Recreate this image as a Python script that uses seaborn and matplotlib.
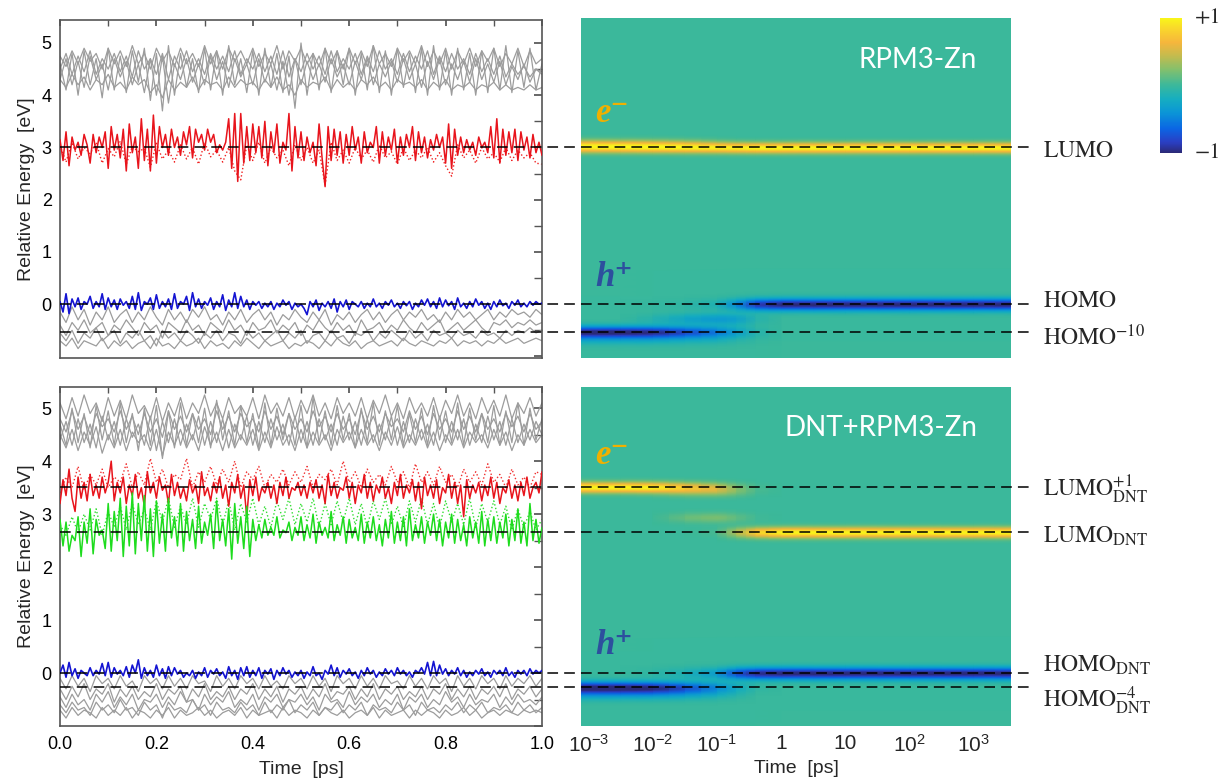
import numpy as np
import matplotlib
matplotlib.use('Agg')
import matplotlib.pyplot as plt
import seaborn as sns
from matplotlib.colors import LinearSegmentedColormap
from matplotlib.lines import Line2D
from matplotlib.ticker import MultipleLocator, FuncFormatter
from matplotlib.transforms import blended_transform_factory

# ---------------- data: left panels, energy traces [eV] over 0..1 ps ----------------

top_red = [3.15, 2.75, 3.3, 2.65, 3.2, 2.95, 3.1, 2.85, 3.25, 3.05,
           2.7, 3.25, 2.9, 3.2, 3.0, 3.3, 2.6, 3.4, 2.95, 3.25,
           2.8, 3.35, 2.55, 3.45, 2.9, 3.2, 2.6, 3.55, 2.75, 3.35,
           2.55, 3.62, 2.7, 3.4, 3.0, 3.25, 2.85, 3.35, 3.0, 3.2,
           2.85, 3.3, 3.05, 3.4, 2.8, 3.35, 3.1, 3.25, 2.95, 3.35,
           3.1, 3.25, 2.9, 3.05, 2.95, 3.1, 3.55, 2.6, 3.65, 2.35,
           3.65, 2.7, 3.4, 2.75, 3.45, 2.9, 3.4, 2.8, 3.5, 2.65,
           3.3, 2.9, 3.45, 2.7, 3.1, 2.95, 3.65, 2.55, 3.4, 2.8,
           3.3, 2.75, 3.2, 2.9, 3.1, 2.65, 3.45, 2.8, 2.25, 3.4,
           2.75, 3.35, 2.85, 3.3, 2.7, 3.25, 2.85, 3.4, 2.95, 3.2,
           2.7, 3.3, 2.9, 3.1, 3.0, 3.4, 2.7, 3.3, 2.85, 3.2,
           2.95, 3.35, 2.7, 3.2, 2.85, 3.25, 3.0, 3.4, 2.75, 3.3,
           2.9, 3.2, 2.8, 3.15, 2.95, 3.25, 3.0, 3.2, 2.7, 3.45,
           2.6, 3.35, 2.85, 3.2, 2.9, 3.15, 2.95, 3.1, 2.85, 3.2,
           3.0, 3.1, 2.9, 3.4, 2.8, 3.55, 2.7, 3.35, 2.85, 3.3,
           2.9, 3.35, 2.75, 3.3, 2.95, 3.2, 2.8, 3.25, 2.9, 3.1, 2.85]

top_red_dot = [3.05, 2.72, 3.1, 2.78, 3.0, 2.88, 3.1, 2.7, 2.98, 2.82,
               3.12, 2.68, 3.02, 2.92, 2.98, 2.62, 3.08, 2.78, 2.95, 2.72,
               3.05, 2.78, 3.0, 2.68, 3.1, 2.82, 2.95, 2.72, 3.0, 2.55,
               2.38, 3.05, 2.75, 3.1, 2.7, 3.0, 2.8, 2.95, 2.65, 3.05,
               2.75, 3.0, 2.7, 2.95, 2.28, 3.1, 2.75, 2.95, 2.7, 3.0,
               2.78, 2.95, 2.72, 3.05, 2.8, 2.92, 2.68, 3.0, 2.75, 2.95,
               2.8, 3.0, 2.72, 2.9, 2.65, 2.45, 3.05, 2.8, 2.95, 2.7,
               3.0, 2.78, 2.9, 2.72, 3.0, 2.75, 2.95, 2.8, 2.9, 2.7, 2.68]

top_blue = [0.05, -0.15, 0.2, -0.18, 0.1, -0.05, 0.12, -0.1, 0.05, 0.0,
            0.15, -0.08, 0.05, -0.05, 0.2, -0.1, 0.12, -0.05, 0.08, -0.1,
            0.1, -0.02, 0.05, -0.08, 0.15, -0.1, 0.22, -0.12, 0.05, 0.0,
            0.12, -0.1, 0.18, -0.08, 0.05, -0.05, 0.1, -0.1, 0.2, -0.08,
            0.05, 0.0, 0.15, -0.12, 0.22, -0.05, 0.1, -0.08, 0.05, -0.02,
            0.12, -0.1, 0.05, -0.05, 0.18, -0.12, 0.08, -0.05, 0.22, -0.08,
            0.15, -0.05, 0.08, -0.1, 0.05, -0.02, 0.05, -0.08, 0.02, -0.05,
            0.05, -0.1, 0.02, -0.05, 0.08, -0.02, 0.05, -0.1, 0.02, -0.05,
            0.0, -0.08, -0.2, 0.05, -0.05, 0.08, -0.12, 0.02, -0.05, 0.05,
            -0.08, 0.1, -0.15, 0.05, -0.05, 0.08, -0.1, 0.05, 0.0, -0.05,
            0.05, -0.08, 0.02, -0.05, 0.1, -0.05, 0.02, -0.08, 0.05, -0.02,
            0.08, -0.05, 0.02, -0.08, 0.05, -0.03, 0.05, -0.1, 0.02, -0.05,
            0.08, -0.02, 0.1, -0.05, 0.05, -0.08, 0.12, -0.05, 0.08, -0.03,
            0.05, -0.1, 0.12, -0.05, 0.02, -0.08, 0.05, -0.05, 0.1, -0.02,
            0.05, -0.08, 0.02, -0.1, 0.05, -0.05, 0.08, -0.03, 0.02, -0.08,
            0.05, -0.02, 0.08, -0.05, 0.02, -0.05, 0.05, -0.02, 0.05, 0.0, 0.02]

top_grey_high = [
    [4.75, 4.55, 4.85, 4.6, 4.9, 4.65, 4.8, 4.5, 4.9, 4.6,
     4.85, 4.55, 4.95, 4.6, 4.8, 4.5, 4.9, 4.65, 4.85, 4.55,
     4.9, 4.6, 4.8, 4.55, 4.95, 4.6, 4.85, 4.5, 4.9, 4.65,
     4.85, 4.6, 4.9, 4.55, 4.8, 4.6, 4.95, 4.5, 4.85, 4.65,
     4.9, 4.6, 4.8, 4.55, 4.9, 4.6, 4.85, 4.5, 4.9, 4.6,
     4.85, 4.55, 4.95, 4.6, 4.8, 4.55, 4.9, 4.65, 4.85, 4.6,
     4.95, 4.55, 4.85, 4.6, 4.9, 4.5, 4.85, 4.6, 4.9, 4.55,
     4.85, 4.65, 4.9, 4.55, 4.8, 4.6, 4.9, 4.55, 4.85, 4.6, 4.7],
    [4.6, 4.1, 4.8, 4.0, 4.85, 4.2, 4.7, 3.95, 4.9, 4.1,
     4.75, 4.05, 4.85, 4.25, 4.9, 3.9, 4.8, 3.7, 4.95, 4.0,
     4.8, 4.15, 4.7, 4.05, 4.9, 4.1, 4.85, 4.0, 4.95, 4.2,
     4.7, 4.05, 4.85, 4.0, 4.9, 4.15, 4.8, 4.05, 4.75, 3.75,
     5.0, 4.0, 4.8, 4.1, 4.9, 4.05, 4.85, 4.2, 4.9, 4.0,
     4.8, 4.1, 4.95, 4.05, 4.85, 4.0, 4.9, 4.15, 4.8, 4.05,
     4.9, 4.0, 4.95, 4.1, 4.85, 4.0, 4.9, 4.1, 4.8, 4.0,
     4.85, 4.05, 4.9, 4.1, 4.95, 4.05, 4.85, 4.15, 4.9, 4.1, 4.6],
    [4.3, 4.7, 4.2, 4.65, 4.15, 4.75, 4.3, 4.6, 4.1, 4.7,
     4.35, 4.65, 4.2, 4.6, 4.05, 4.7, 4.0, 4.75, 3.85, 4.6,
     4.3, 4.7, 4.25, 4.6, 4.2, 4.75, 4.3, 4.65, 4.15, 4.7,
     4.35, 4.6, 4.2, 4.7, 4.25, 4.6, 4.1, 4.65, 4.0, 4.7,
     4.2, 4.65, 4.3, 4.6, 4.25, 4.7, 4.35, 4.6, 4.2, 4.65,
     4.3, 4.7, 4.2, 4.6, 4.35, 4.65, 4.25, 4.7, 4.3, 4.6,
     4.15, 4.65, 4.3, 4.7, 4.2, 4.6, 4.3, 4.65, 4.25, 4.7,
     4.3, 4.6, 4.25, 4.65, 4.2, 4.55, 4.3, 4.6, 4.25, 4.5, 4.4],
    [4.3, 4.15, 4.4, 4.2, 4.35, 4.1, 4.3, 4.2, 4.4, 4.15,
     4.25, 4.1, 4.35, 4.2, 4.3, 4.05, 4.2, 3.95, 4.3, 4.1,
     4.25, 4.15, 4.35, 4.1, 4.3, 4.2, 4.25, 4.1, 4.35, 4.15,
     4.3, 4.2, 4.25, 4.1, 4.3, 4.15, 4.35, 4.1, 4.2, 4.0,
     4.3, 4.15, 4.25, 4.2, 4.35, 4.1, 4.3, 4.15, 4.25, 4.1,
     4.3, 4.2, 4.35, 4.15, 4.25, 4.1, 4.3, 4.2, 4.25, 4.15,
     4.3, 4.1, 4.25, 4.15, 4.3, 4.1, 4.2, 4.15, 4.25, 4.1,
     4.2, 4.15, 4.25, 4.1, 4.2, 4.1, 4.15, 4.1, 4.2, 4.1, 4.15],
    [4.5, 4.8, 4.4, 4.75, 4.45, 4.85, 4.4, 4.7, 4.5, 4.8,
     4.45, 4.75, 4.35, 4.85, 4.5, 4.7, 4.4, 4.8, 4.3, 4.75,
     4.5, 4.85, 4.45, 4.7, 4.4, 4.8, 4.5, 4.75, 4.45, 4.85,
     4.4, 4.7, 4.5, 4.8, 4.45, 4.75, 4.4, 4.85, 4.35, 4.7,
     4.45, 4.8, 4.5, 4.75, 4.4, 4.85, 4.45, 4.7, 4.5, 4.8,
     4.4, 4.75, 4.45, 4.85, 4.5, 4.7, 4.4, 4.8, 4.45, 4.75,
     4.5, 4.85, 4.4, 4.75, 4.45, 4.8, 4.5, 4.7, 4.4, 4.8,
     4.45, 4.7, 4.4, 4.75, 4.35, 4.6, 4.4, 4.55, 4.35, 4.5, 4.45],
]

top_grey_low = [
    [-0.15, -0.35, -0.05, -0.3, -0.1, -0.4, -0.15, -0.3, -0.05, -0.35,
     -0.2, -0.1, -0.35, -0.15, -0.3, -0.05, -0.25, -0.4, -0.1, -0.3,
     -0.15, -0.35, -0.1, -0.25, -0.05, -0.3, -0.2, -0.4, -0.15, -0.3,
     -0.1, -0.35, -0.2, -0.1, -0.3, -0.15, -0.4, -0.2, -0.3, -0.1,
     -0.25, -0.35, -0.15, -0.3, -0.1, -0.4, -0.2, -0.3, -0.15, -0.35,
     -0.2, -0.1, -0.3, -0.15, -0.35, -0.2, -0.1, -0.3, -0.15, -0.25,
     -0.1, -0.3, -0.2, -0.35, -0.15, -0.3, -0.1, -0.25, -0.15, -0.3,
     -0.2, -0.1, -0.3, -0.15, -0.25, -0.1, -0.2, -0.15, -0.25, -0.1, -0.2],
    [-0.4, -0.6, -0.35, -0.5, -0.3, -0.55, -0.45, -0.35, -0.6, -0.4,
     -0.5, -0.3, -0.45, -0.6, -0.35, -0.5, -0.4, -0.65, -0.35, -0.45,
     -0.55, -0.3, -0.5, -0.4, -0.6, -0.35, -0.45, -0.55, -0.3, -0.5,
     -0.4, -0.6, -0.35, -0.5, -0.45, -0.3, -0.55, -0.4, -0.5, -0.35,
     -0.6, -0.4, -0.5, -0.3, -0.45, -0.55, -0.35, -0.5, -0.4, -0.6,
     -0.3, -0.5, -0.45, -0.35, -0.55, -0.4, -0.5, -0.3, -0.45, -0.55,
     -0.35, -0.5, -0.4, -0.3, -0.55, -0.45, -0.35, -0.5, -0.4, -0.3,
     -0.45, -0.55, -0.35, -0.4, -0.3, -0.45, -0.35, -0.4, -0.3, -0.4, -0.35],
    [-0.55, -0.7, -0.5, -0.75, -0.55, -0.65, -0.45, -0.7, -0.6, -0.5,
     -0.75, -0.55, -0.65, -0.5, -0.7, -0.6, -0.8, -0.5, -0.65, -0.55,
     -0.7, -0.5, -0.6, -0.75, -0.55, -0.65, -0.5, -0.7, -0.55, -0.6,
     -0.75, -0.5, -0.65, -0.55, -0.7, -0.6, -0.5, -0.7, -0.55, -0.65,
     -0.5, -0.75, -0.6, -0.55, -0.7, -0.5, -0.65, -0.6, -0.75, -0.55,
     -0.6, -0.5, -0.7, -0.55, -0.65, -0.5, -0.6, -0.7, -0.5, -0.65,
     -0.55, -0.7, -0.5, -0.6, -0.55, -0.65, -0.5, -0.6, -0.55, -0.65,
     -0.5, -0.6, -0.55, -0.65, -0.5, -0.6, -0.5, -0.55, -0.45, -0.55, -0.5],
    [-0.7, -0.8, -0.65, -0.85, -0.7, -0.75, -0.8, -0.65, -0.85, -0.7,
     -0.8, -0.7, -0.85, -0.75, -0.7, -0.85, -0.65, -0.8, -0.75, -0.85,
     -0.7, -0.8, -0.75, -0.65, -0.85, -0.7, -0.8, -0.75, -0.85, -0.7,
     -0.8, -0.65, -0.75, -0.85, -0.7, -0.8, -0.75, -0.7, -0.85, -0.75,
     -0.8, -0.7, -0.75, -0.85, -0.7, -0.8, -0.65, -0.75, -0.8, -0.7,
     -0.85, -0.75, -0.7, -0.8, -0.75, -0.7, -0.8, -0.65, -0.75, -0.8,
     -0.7, -0.75, -0.8, -0.7, -0.75, -0.65, -0.8, -0.7, -0.75, -0.7,
     -0.8, -0.7, -0.75, -0.65, -0.75, -0.7, -0.65, -0.75, -0.7, -0.65, -0.7],
]

bot_red = [3.2, 3.65, 3.35, 3.85, 3.3, 3.05, 3.7, 3.3, 3.6, 3.25,
           3.75, 3.35, 3.55, 3.3, 3.7, 3.4, 3.6, 4.0, 3.25, 3.6,
           3.4, 3.7, 3.2, 3.55, 3.35, 3.75, 3.3, 3.5, 3.15, 3.8,
           3.4, 3.6, 3.3, 3.7, 3.45, 3.55, 3.2, 3.75, 3.35, 3.6,
           3.3, 3.5, 3.25, 3.65, 3.4, 3.55, 3.2, 3.8, 3.35, 3.5,
           3.25, 3.6, 3.4, 3.7, 3.3, 3.55, 3.15, 3.6, 3.4, 3.75,
           3.3, 3.55, 2.95, 3.65, 3.35, 3.7, 3.25, 3.5, 3.4, 3.6,
           3.3, 3.55, 3.2, 3.6, 3.35, 3.7, 3.3, 3.5, 3.45, 3.6,
           3.35, 3.55, 3.3, 3.6, 3.4, 3.65, 3.3, 3.55, 3.2, 3.75,
           3.35, 3.6, 3.3, 3.5, 3.45, 3.7, 3.3, 3.6, 3.2, 3.55,
           3.4, 3.75, 3.3, 3.6, 3.25, 3.55, 3.4, 3.7, 3.3, 3.5,
           3.2, 3.6, 3.35, 3.75, 3.3, 3.55, 3.4, 3.65, 3.25, 3.6,
           3.1, 3.7, 3.35, 3.55, 3.3, 3.65, 3.2, 3.5, 3.4, 3.75,
           3.3, 3.6, 3.2, 3.55, 2.95, 3.65, 3.3, 3.55, 3.4, 3.6,
           3.25, 3.55, 3.35, 3.7, 3.3, 3.6, 3.2, 3.5, 3.4, 3.65,
           3.3, 3.55, 3.25, 3.6, 3.35, 3.7, 3.3, 3.5, 3.6, 3.4, 3.8]

bot_red_dot = [3.4, 3.7, 3.5, 3.9, 3.45, 3.75, 3.55, 3.85, 3.5, 3.7,
               3.6, 3.95, 3.5, 3.8, 3.55, 4.05, 3.6, 3.85, 3.5, 3.75,
               3.65, 4.05, 3.5, 3.8, 3.6, 3.9, 3.55, 3.85, 3.6, 4.0,
               3.5, 3.8, 3.65, 3.9, 3.5, 3.75, 3.6, 3.85, 3.55, 3.8,
               3.6, 3.9, 3.5, 3.75, 3.65, 3.85, 3.55, 4.0, 3.6, 3.8,
               3.5, 3.85, 3.6, 3.75, 3.55, 3.9, 3.6, 3.8, 3.5, 3.95,
               3.6, 3.8, 3.55, 3.9, 3.6, 3.75, 3.5, 3.85, 3.6, 3.8,
               3.55, 3.95, 3.6, 3.75, 3.5, 3.85, 3.55, 3.7, 3.5, 3.8, 3.75]

bot_green = [2.9, 2.4, 2.85, 2.3, 2.6, 2.5, 2.95, 2.2, 2.85, 2.45,
             3.1, 2.25, 2.9, 2.6, 2.7, 2.35, 3.2, 2.3, 3.05, 2.5,
             3.3, 2.2, 3.15, 2.4, 3.4, 2.25, 3.2, 2.5, 3.35, 2.3,
             3.1, 2.2, 3.25, 2.45, 3.0, 2.3, 3.3, 2.55, 2.95, 2.4,
             3.2, 2.3, 3.05, 2.5, 2.9, 2.35, 3.15, 2.45, 2.85, 2.6,
             3.0, 2.35, 3.25, 2.5, 2.9, 2.4, 3.1, 2.15, 3.2, 2.45,
             2.95, 2.35, 3.15, 2.2, 2.9, 2.5, 2.8, 2.55, 2.9, 2.6,
             2.75, 2.6, 2.95, 2.55, 2.7, 2.65, 2.85, 2.5, 2.75, 2.6,
             2.95, 2.5, 2.8, 2.55, 3.0, 2.45, 2.85, 2.6, 2.75, 2.55,
             3.05, 2.5, 2.8, 2.6, 2.95, 2.45, 2.9, 2.55, 2.75, 2.5,
             3.0, 2.45, 2.85, 2.55, 2.95, 2.5, 2.8, 2.4, 2.9, 2.55,
             3.05, 2.45, 2.85, 2.5, 2.95, 2.4, 3.1, 2.5, 2.8, 2.55,
             2.95, 2.45, 2.85, 2.6, 3.0, 2.5, 2.9, 2.4, 2.85, 2.55,
             3.0, 2.45, 2.9, 2.5, 2.8, 2.4, 2.95, 2.55, 2.85, 2.45,
             3.05, 2.4, 2.9, 2.5, 2.95, 2.45, 2.85, 2.55, 3.0, 2.4,
             2.9, 2.5, 3.1, 2.45, 2.85, 2.4, 3.2, 2.5, 2.9, 2.45, 2.75]

bot_green_dot = [2.8, 2.6, 2.95, 2.65, 3.0, 2.7, 3.1, 2.6, 3.05, 2.75,
                 3.15, 2.7, 3.2, 2.8, 3.1, 2.7, 3.25, 2.85, 3.3, 2.75,
                 3.15, 2.8, 3.3, 2.75, 3.2, 2.9, 3.3, 2.8, 3.25, 2.7,
                 3.2, 2.85, 3.3, 2.8, 3.15, 2.75, 3.25, 2.9, 3.3, 2.8,
                 3.2, 2.85, 3.3, 2.75, 3.2, 2.8, 3.25, 2.85, 3.3, 2.8,
                 3.2, 2.75, 3.25, 2.9, 3.3, 2.8, 3.15, 2.75, 3.25, 2.85,
                 3.3, 2.8, 3.2, 2.75, 3.25, 2.85, 3.2, 2.8, 3.3, 2.75,
                 3.2, 2.85, 3.25, 2.8, 3.15, 2.7, 3.1, 2.75, 3.05, 2.7, 2.9]

bot_blue = [0.0, 0.15, -0.08, 0.2, -0.05, 0.08, -0.1, 0.05, 0.0, -0.05,
            0.1, -0.05, 0.05, -0.02, 0.18, -0.05, 0.2, -0.08, 0.1, -0.02,
            0.05, -0.05, 0.12, -0.08, 0.15, 0.0, 0.25, -0.1, 0.1, -0.05,
            0.05, -0.08, 0.15, -0.05, 0.08, -0.1, 0.12, -0.05, 0.1, -0.02,
            0.05, -0.08, 0.0, -0.05, 0.05, -0.1, 0.02, -0.05, 0.1, -0.08,
            0.05, -0.02, 0.08, -0.05, 0.02, -0.1, 0.12, -0.05, 0.05, -0.12,
            0.1, -0.05, 0.12, -0.08, 0.05, -0.05, 0.1, -0.1, 0.05, -0.02,
            0.08, -0.12, 0.05, -0.05, 0.1, -0.02, 0.05, -0.08, 0.02, -0.05,
            0.05, -0.1, 0.02, -0.05, 0.12, -0.05, 0.0, -0.12, 0.05, -0.02,
            0.15, -0.05, 0.1, -0.08, 0.05, -0.02, 0.08, -0.05, 0.02, -0.1,
            0.05, -0.05, 0.1, -0.02, 0.05, -0.08, 0.02, -0.05, 0.08, -0.02,
            0.05, -0.05, 0.1, -0.02, 0.05, -0.05, 0.02, -0.08, 0.05, 0.0,
            0.1, -0.02, 0.2, -0.05, 0.22, -0.05, 0.15, -0.02, 0.08, -0.05,
            0.05, -0.02, 0.1, -0.05, 0.05, -0.08, 0.02, -0.05, 0.05, -0.02,
            0.08, -0.05, 0.02, -0.08, 0.05, -0.02, 0.05, -0.05, 0.1, -0.05,
            0.02, -0.08, 0.05, -0.02, 0.05, -0.05, 0.08, -0.02, 0.05, 0.0, 0.05]

bot_grey_high = [
    [5.1, 4.8, 5.2, 4.85, 5.25, 4.9, 5.1, 4.75, 5.2, 4.85,
     5.15, 4.8, 5.25, 4.9, 5.05, 4.8, 5.2, 4.75, 5.1, 4.85,
     5.2, 4.8, 5.1, 4.9, 5.25, 4.85, 5.1, 4.8, 5.2, 4.9,
     5.05, 4.85, 5.2, 4.8, 5.25, 4.9, 5.1, 4.85, 5.2, 4.8,
     5.15, 4.9, 5.25, 4.85, 5.1, 4.8, 5.2, 4.9, 5.1, 4.85,
     5.2, 4.8, 5.15, 4.9, 5.25, 4.85, 5.1, 4.8, 5.2, 4.9,
     5.1, 4.85, 5.2, 4.8, 5.15, 4.9, 5.25, 4.85, 5.1, 4.8,
     5.2, 4.9, 5.15, 4.85, 5.25, 4.8, 5.1, 4.9, 5.2, 4.85, 5.1],
    [4.7, 4.3, 5.0, 4.35, 4.9, 4.25, 5.05, 4.4, 4.95, 4.3,
     5.1, 4.35, 4.9, 4.2, 5.0, 4.3, 5.05, 4.05, 4.95, 4.25,
     5.1, 4.3, 4.9, 4.35, 5.0, 4.25, 5.15, 4.4, 4.95, 4.3,
     5.05, 4.35, 4.9, 4.25, 5.1, 4.3, 5.0, 4.4, 4.9, 4.3,
     5.05, 4.25, 5.2, 4.35, 4.95, 4.3, 5.05, 4.4, 4.9, 4.25,
     5.0, 4.35, 5.1, 4.3, 4.95, 4.4, 5.05, 4.3, 4.9, 4.35,
     5.0, 4.3, 5.05, 4.4, 4.95, 4.35, 5.1, 4.3, 5.0, 4.4,
     4.9, 4.35, 5.05, 4.3, 4.95, 4.35, 5.1, 4.3, 5.0, 4.4, 4.8],
    [4.4, 4.75, 4.3, 4.8, 4.35, 4.7, 4.25, 4.85, 4.4, 4.75,
     4.3, 4.8, 4.45, 4.7, 4.3, 4.85, 4.2, 4.75, 4.35, 4.8,
     4.3, 4.7, 4.4, 4.85, 4.3, 4.75, 4.35, 4.8, 4.25, 4.7,
     4.4, 4.85, 4.3, 4.75, 4.35, 4.8, 4.4, 4.7, 4.3, 4.85,
     4.35, 4.75, 4.3, 4.8, 4.4, 4.7, 4.3, 4.85, 4.4, 4.75,
     4.3, 4.8, 4.35, 4.7, 4.4, 4.85, 4.3, 4.75, 4.35, 4.8,
     4.4, 4.7, 4.3, 4.85, 4.35, 4.75, 4.4, 4.8, 4.3, 4.7,
     4.35, 4.85, 4.4, 4.75, 4.3, 4.8, 4.35, 4.7, 4.4, 4.75, 4.5],
    [4.5, 4.25, 4.6, 4.2, 4.55, 4.3, 4.65, 4.15, 4.5, 4.25,
     4.6, 4.2, 4.55, 4.35, 4.5, 4.2, 4.6, 4.1, 4.55, 4.3,
     4.6, 4.25, 4.5, 4.2, 4.65, 4.3, 4.55, 4.2, 4.6, 4.25,
     4.5, 4.3, 4.6, 4.2, 4.55, 4.25, 4.65, 4.3, 4.5, 4.2,
     4.6, 4.25, 4.55, 4.3, 4.5, 4.2, 4.6, 4.35, 4.55, 4.25,
     4.6, 4.3, 4.5, 4.2, 4.55, 4.3, 4.65, 4.25, 4.5, 4.3,
     4.6, 4.25, 4.55, 4.2, 4.5, 4.3, 4.6, 4.25, 4.55, 4.35,
     4.5, 4.25, 4.6, 4.3, 4.55, 4.2, 4.5, 4.3, 4.6, 4.35, 4.5],
    [4.8, 4.55, 4.95, 4.6, 4.85, 4.5, 4.9, 4.65, 4.8, 4.55,
     4.95, 4.6, 4.85, 4.5, 4.9, 4.55, 4.8, 4.45, 4.95, 4.6,
     4.85, 4.55, 4.9, 4.6, 4.8, 4.5, 4.95, 4.6, 4.85, 4.55,
     4.9, 4.65, 4.8, 4.55, 4.95, 4.6, 4.85, 4.5, 4.9, 4.6,
     4.8, 4.55, 4.95, 4.65, 4.85, 4.55, 4.9, 4.6, 4.8, 4.5,
     4.95, 4.6, 4.85, 4.55, 4.9, 4.65, 4.8, 4.55, 4.95, 4.6,
     4.85, 4.5, 4.9, 4.6, 4.8, 4.55, 4.95, 4.6, 4.85, 4.55,
     4.9, 4.6, 4.8, 4.55, 4.9, 4.65, 4.85, 4.55, 4.9, 4.6, 4.75],
]

bot_grey_low = [
    [-0.1, -0.3, -0.05, -0.25, -0.1, -0.35, -0.05, -0.2, -0.1, -0.3,
     -0.05, -0.25, -0.15, -0.35, -0.05, -0.2, -0.1, -0.3, -0.05, -0.25,
     -0.1, -0.3, -0.05, -0.2, -0.15, -0.35, -0.05, -0.25, -0.1, -0.3,
     -0.05, -0.2, -0.1, -0.3, -0.05, -0.25, -0.15, -0.3, -0.05, -0.2,
     -0.1, -0.3, -0.05, -0.25, -0.1, -0.35, -0.05, -0.2, -0.1, -0.3,
     -0.05, -0.25, -0.1, -0.3, -0.05, -0.2, -0.15, -0.3, -0.05, -0.25,
     -0.1, -0.3, -0.05, -0.2, -0.1, -0.35, -0.05, -0.25, -0.1, -0.3,
     -0.05, -0.2, -0.1, -0.3, -0.05, -0.25, -0.1, -0.2, -0.05, -0.25, -0.1],
    [-0.3, -0.5, -0.25, -0.45, -0.2, -0.5, -0.3, -0.4, -0.2, -0.55,
     -0.3, -0.45, -0.25, -0.5, -0.35, -0.45, -0.2, -0.5, -0.3, -0.4,
     -0.25, -0.55, -0.3, -0.45, -0.2, -0.5, -0.35, -0.45, -0.25, -0.5,
     -0.3, -0.4, -0.2, -0.5, -0.3, -0.45, -0.25, -0.55, -0.3, -0.4,
     -0.25, -0.5, -0.3, -0.45, -0.2, -0.5, -0.35, -0.4, -0.25, -0.5,
     -0.3, -0.45, -0.2, -0.5, -0.3, -0.4, -0.25, -0.5, -0.35, -0.45,
     -0.25, -0.5, -0.3, -0.4, -0.2, -0.5, -0.3, -0.45, -0.25, -0.5,
     -0.3, -0.4, -0.25, -0.45, -0.2, -0.5, -0.3, -0.4, -0.25, -0.45, -0.3],
    [-0.45, -0.65, -0.4, -0.6, -0.5, -0.7, -0.4, -0.55, -0.35, -0.65,
     -0.45, -0.6, -0.4, -0.7, -0.5, -0.55, -0.4, -0.65, -0.45, -0.6,
     -0.35, -0.55, -0.5, -0.7, -0.4, -0.6, -0.45, -0.55, -0.35, -0.65,
     -0.5, -0.6, -0.4, -0.7, -0.45, -0.55, -0.4, -0.65, -0.5, -0.55,
     -0.4, -0.6, -0.45, -0.7, -0.4, -0.55, -0.5, -0.65, -0.35, -0.6,
     -0.45, -0.55, -0.4, -0.65, -0.5, -0.6, -0.4, -0.7, -0.45, -0.55,
     -0.4, -0.65, -0.5, -0.6, -0.35, -0.55, -0.45, -0.65, -0.4, -0.6,
     -0.5, -0.55, -0.4, -0.65, -0.45, -0.6, -0.4, -0.55, -0.5, -0.6, -0.45],
    [-0.6, -0.75, -0.55, -0.7, -0.65, -0.8, -0.55, -0.7, -0.6, -0.75,
     -0.5, -0.7, -0.65, -0.8, -0.55, -0.7, -0.6, -0.85, -0.55, -0.7,
     -0.65, -0.75, -0.5, -0.7, -0.6, -0.8, -0.55, -0.7, -0.65, -0.75,
     -0.55, -0.7, -0.6, -0.8, -0.55, -0.75, -0.6, -0.7, -0.5, -0.75,
     -0.6, -0.7, -0.55, -0.8, -0.65, -0.7, -0.55, -0.75, -0.6, -0.7,
     -0.55, -0.8, -0.6, -0.7, -0.65, -0.75, -0.55, -0.7, -0.6, -0.8,
     -0.55, -0.7, -0.65, -0.75, -0.6, -0.7, -0.55, -0.75, -0.6, -0.7,
     -0.55, -0.75, -0.65, -0.7, -0.6, -0.75, -0.55, -0.7, -0.6, -0.75, -0.65],
    [-0.7, -0.85, -0.65, -0.8, -0.7, -0.75, -0.85, -0.65, -0.8, -0.7,
     -0.8, -0.65, -0.85, -0.7, -0.75, -0.85, -0.7, -0.8, -0.65, -0.85,
     -0.7, -0.8, -0.75, -0.65, -0.8, -0.7, -0.85, -0.75, -0.7, -0.8,
     -0.65, -0.85, -0.7, -0.8, -0.75, -0.7, -0.85, -0.65, -0.8, -0.7,
     -0.75, -0.85, -0.7, -0.8, -0.65, -0.75, -0.8, -0.7, -0.85, -0.75,
     -0.7, -0.8, -0.65, -0.85, -0.7, -0.8, -0.75, -0.7, -0.85, -0.7,
     -0.8, -0.7, -0.75, -0.85, -0.7, -0.8, -0.75, -0.65, -0.8, -0.7,
     -0.85, -0.75, -0.7, -0.8, -0.7, -0.75, -0.8, -0.7, -0.75, -0.7, -0.75],
]

# ---------------- data: right panels, carrier population on levels ----------------
# time nodes as log10(t / ps)
heat_logt = [-3.15, -2.5, -2.0, -1.5, -1.0, -0.7, -0.4, 0.0, 1.0, 2.0, 3.0, 3.65]

# (level energy [eV], signed population at each time node; + electron, - hole)
top_levels = [
    (3.00, [0.7, 0.75, 0.8, 0.85, 0.9, 0.95, 1.0, 1.0, 1.0, 1.0, 1.0, 1.0]),
    (3.07, [0.45, 0.4, 0.35, 0.25, 0.1, 0.03, 0.0, 0.0, 0.0, 0.0, 0.0, 0.0]),
    (0.00, [0.0, 0.0, -0.02, -0.05, -0.15, -0.45, -0.85, -1.0, -1.0, -1.0, -1.0, -1.0]),
    (-0.28, [0.0, 0.0, -0.1, -0.25, -0.35, -0.3, -0.1, 0.0, 0.0, 0.0, 0.0, 0.0]),
    (-0.53, [-1.0, -1.0, -0.95, -0.75, -0.5, -0.3, -0.1, 0.0, 0.0, 0.0, 0.0, 0.0]),
    (-0.68, [-0.15, -0.15, -0.15, -0.12, -0.1, -0.05, -0.02, 0.0, 0.0, 0.0, 0.0, 0.0]),
]

bot_levels = [
    (3.51, [1.0, 1.0, 0.95, 0.65, 0.4, 0.15, 0.03, 0.0, 0.0, 0.0, 0.0, 0.0]),
    (3.43, [0.0, 0.0, 0.05, 0.2, 0.25, 0.15, 0.03, 0.0, 0.0, 0.0, 0.0, 0.0]),
    (2.94, [0.0, 0.0, 0.0, 0.15, 0.22, 0.12, 0.03, 0.0, 0.0, 0.0, 0.0, 0.0]),
    (2.66, [0.0, 0.0, 0.0, 0.0, 0.05, 0.4, 0.8, 1.0, 1.0, 1.0, 1.0, 1.0]),
    (0.00, [0.0, 0.0, -0.05, -0.15, -0.35, -0.75, -0.95, -1.0, -1.0, -1.0, -1.0, -1.0]),
    (-0.27, [-1.0, -1.0, -0.95, -0.7, -0.4, -0.2, -0.05, 0.0, 0.0, 0.0, 0.0, 0.0]),
    (-0.40, [-0.25, -0.25, -0.25, -0.2, -0.12, -0.06, 0.0, 0.0, 0.0, 0.0, 0.0, 0.0]),
]

# reference level energies and their labels
top_refs = [(3.0, r'$\mathrm{LUMO}$', -10),
            (0.0, r'$\mathrm{HOMO}$', -3),
            (-0.53, r'$\mathrm{HOMO}^{-10}$', -13)]
bot_refs = [(3.51, r'$\mathrm{LUMO}_{\mathrm{DNT}}^{+1}$', -10),
            (2.66, r'$\mathrm{LUMO}_{\mathrm{DNT}}$', -11),
            (0.0, r'$\mathrm{HOMO}_{\mathrm{DNT}}$', 1),
            (-0.27, r'$\mathrm{HOMO}_{\mathrm{DNT}}^{-4}$', -20)]

log_ticks = [-3, -2, -1, 0, 1, 2, 3]
log_ticklabels = [r'$\mathregular{10^{-3}}$', r'$\mathregular{10^{-2}}$', r'$\mathregular{10^{-1}}$',
                  '1', '10', r'$\mathregular{10^{2}}$', r'$\mathregular{10^{3}}$']

# ---------------- style ----------------
sns.set_theme(style='white')
plt.rcParams['font.family'] = ['Liberation Sans', 'DejaVu Sans']
plt.rcParams['mathtext.fontset'] = 'stix'
plt.rcParams['lines.solid_joinstyle'] = 'round'

parula_like = LinearSegmentedColormap.from_list('parula_like', [
    (0.00, '#2b2a78'), (0.08, '#2a3fc4'), (0.18, '#0b66e4'), (0.30, '#0b96d6'),
    (0.40, '#16aec0'), (0.50, '#3ab89c'), (0.62, '#84c06c'), (0.72, '#c4bb4e'),
    (0.82, '#f6b63c'), (0.92, '#f9d62c'), (1.00, '#f9f51a')])

W, H = 1225, 779
fig = plt.figure(figsize=(W / 100, H / 100), dpi=100)


def px_axes(x0, y0, x1, y1):
    return fig.add_axes([x0 / W, 1 - y1 / H, (x1 - x0) / W, (y1 - y0) / H])


axL1 = px_axes(60, 20, 542, 358)
axL2 = px_axes(60, 387, 542, 726)
axR1 = px_axes(581, 18, 1011, 358)
axR2 = px_axes(581, 387, 1011, 726)
cax = px_axes(1160, 18, 1182, 153)

ylim_top = (-1.03, 5.44)
ylim_bot = (-1.0, 5.4)

grey = '#9c9c9c'


def trace(ax, vals, color, lw, ls='-', z=2):
    t = np.linspace(0, 1, len(vals))
    sns.lineplot(x=t, y=vals, ax=ax, color=color, lw=lw, linestyle=ls,
                 estimator=None, legend=False, zorder=z)


# top-left
for g in top_grey_high + top_grey_low:
    trace(axL1, g, grey, 0.9, z=1)
trace(axL1, top_red_dot, '#f02020', 1.0, ':', z=2)
trace(axL1, top_red, '#e8141c', 1.1, z=3)
trace(axL1, top_blue, '#1414d2', 1.2, z=4)

# bottom-left
for g in bot_grey_high + bot_grey_low:
    trace(axL2, g, grey, 0.9, z=1)
trace(axL2, bot_red_dot, '#f03030', 1.0, ':', z=2)
trace(axL2, bot_green_dot, '#30dd30', 1.0, ':', z=2)
trace(axL2, bot_red, '#e8141c', 1.1, z=3)
trace(axL2, bot_green, '#1edc1e', 1.1, z=3)
trace(axL2, bot_blue, '#1414d2', 1.2, z=4)

for ax, yl in ((axL1, ylim_top), (axL2, ylim_bot)):
    ax.set_xlim(0, 1)
    ax.set_ylim(*yl)
    ax.xaxis.set_major_locator(MultipleLocator(0.2))
    ax.xaxis.set_minor_locator(MultipleLocator(0.1))
    ax.yaxis.set_major_locator(MultipleLocator(1))
    ax.yaxis.set_minor_locator(MultipleLocator(0.5))
    ax.xaxis.set_major_formatter(FuncFormatter(lambda v, p: f'{v:.1f}'))
    ax.yaxis.set_major_formatter(FuncFormatter(lambda v, p: f'{v:.0f}' if v > -0.5 else ''))
    ax.tick_params(which='both', direction='in', top=True, right=True,
                   color='#555555', labelsize=13, labelcolor='black')
    ax.tick_params(axis='x', which='both', length=4.5, pad=7)
    ax.tick_params(axis='y', which='both', length=6, pad=6)
    for s in ax.spines.values():
        s.set_color('#555555')
        s.set_linewidth(1.2)
    ax.set_ylabel('Relative Energy  [eV]', fontsize=14, labelpad=5)
    ax.set_xlabel('')

axL1.tick_params(labelbottom=False)
axL2.set_xlabel('Time  [ps]', fontsize=14, labelpad=6)

# right panels: population maps
energy = np.arange(-1.2, 5.6, 0.01)
width_e, width_h = 0.07, 0.08
mesh = None
for ax, levels, yl in ((axR1, top_levels, (ylim_top[0], ylim_top[1] + 0.04)),
                       (axR2, bot_levels, ylim_bot)):
    z = np.zeros((len(energy), len(heat_logt)))
    for e0, pops in levels:
        w = width_e if max(pops) > 0 else width_h
        z += np.outer(np.exp(-0.5 * ((energy - e0) / w) ** 2), pops)
    mesh = ax.pcolormesh(heat_logt, energy, z, shading='gouraud', cmap=parula_like,
                         vmin=-1, vmax=1, rasterized=True)
    ax.set_xlim(-3.12, 3.58)
    ax.set_ylim(*yl)
    ax.set_yticks([])
    for s in ax.spines.values():
        s.set_visible(False)
    ax.set_xticks(log_ticks)
    ax.set_xticklabels(log_ticklabels)
    ax.tick_params(axis='x', length=0, labelsize=15, pad=6)

axR1.tick_params(labelbottom=False)
axR2.set_xlabel('Time  [ps]', fontsize=14, labelpad=3)

axR1.text(0.921, 0.876, 'RPM3-Zn', transform=axR1.transAxes, ha='right', va='center',
          color='white', fontsize=20, family='Lato')
axR2.text(0.921, 0.879, 'DNT+RPM3-Zn', transform=axR2.transAxes, ha='right', va='center',
          color='white', fontsize=20, family='Lato')

for ax, y_e, y_h in ((axR1, 113, 278), (axR2, 455, 645)):
    fig.text(612 / W, 1 - y_e / H, 'e⁻', ha='center', va='center', color='#f0b000',
             fontsize=25, fontweight='bold', fontstyle='italic',
             family=['Liberation Serif', 'DejaVu Serif'])
    fig.text(614 / W, 1 - y_h / H, 'h⁺', ha='center', va='center', color='#2d4f9e',
             fontsize=25, fontweight='bold', fontstyle='italic',
             family=['Liberation Serif', 'DejaVu Serif'])

# dashed reference levels across both panels, with labels
for ax_ref, refs in ((axL1, top_refs), (axL2, bot_refs)):
    trans = blended_transform_factory(fig.transFigure, ax_ref.transData)
    for y, lab, dy in refs:
        fig.add_artist(Line2D([60 / W, 1032 / W], [y, y], transform=trans,
                              color='black', lw=1.1, dashes=(7, 4)))
        ax_ref.annotate(lab, xy=(1043 / W, y), xycoords=trans, xytext=(0, dy),
                        textcoords='offset pixels', ha='left', va='baseline',
                        fontsize=17, annotation_clip=False)

# colour bar
cb = fig.colorbar(mesh, cax=cax, ticks=[])
cb.outline.set_visible(False)
fig.text(1195 / W, 1 - 18 / H, '+1', ha='left', va='center', fontsize=16, family='STIXGeneral')
fig.text(1195 / W, 1 - 153 / H, '−1', ha='left', va='center', fontsize=16, family='STIXGeneral')

plt.savefig('out.png', dpi=100)
